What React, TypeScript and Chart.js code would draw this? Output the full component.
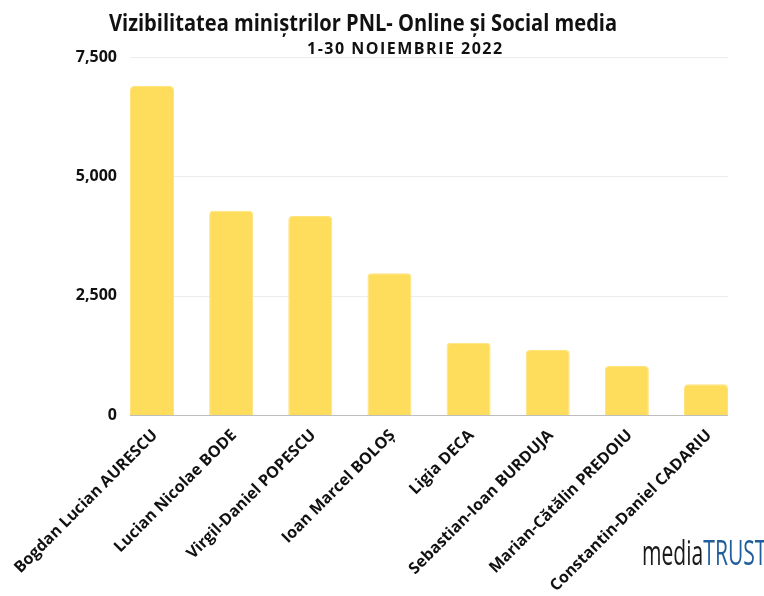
import React, { useEffect, useRef } from "react";
import { Chart, registerables } from "chart.js";

Chart.register(...registerables);

const categories = [
  "Bogdan Lucian AURESCU",
  "Lucian Nicolae BODE",
  "Virgil-Daniel POPESCU",
  "Ioan Marcel BOLOȘ",
  "Ligia DECA",
  "Sebastian-Ioan BURDUJA",
  "Marian-Cătălin PREDOIU",
  "Constantin-Daniel CADARIU",
];
const visibility = [6890, 4280, 4170, 2970, 1515, 1360, 1025, 645];
const yTicks = [0, 2500, 5000, 7500];

const titleText = "Vizibilitatea miniștrilor PNL- Online și Social media";
const subtitleText = "1-30 NOIEMBRIE 2022";

const FONT = "'Open Sans', 'Noto Sans', sans-serif";

const barGridPlugin = {
  id: "barGrid",
  beforeDatasetsDraw(chart: any) {
    const meta = chart.getDatasetMeta(0);
    if (!meta || !meta.data.length) return;
    const first = meta.data[0];
    const last = meta.data[meta.data.length - 1];
    const left = first.x - first.width / 2;
    const right = last.x + last.width / 2;
    const y = chart.scales.y;
    const ctx = chart.ctx;
    ctx.save();
    y.ticks.forEach((t: any) => {
      const py = Math.round(y.getPixelForValue(t.value)) + 0.5;
      ctx.beginPath();
      ctx.strokeStyle = t.value === 0 ? "#bdbdbd" : "#ededed";
      ctx.lineWidth = 1;
      ctx.moveTo(left, py);
      ctx.lineTo(right, py);
      ctx.stroke();
    });
    ctx.restore();
  },
};

export default function App() {
  const canvasRef = useRef<HTMLCanvasElement | null>(null);

  useEffect(() => {
    if (!canvasRef.current) return;
    const chart = new Chart(canvasRef.current, {
      type: "bar",
      data: {
        labels: categories,
        datasets: [
          {
            data: visibility,
            backgroundColor: "#FFDD5C",
            borderColor: "#FFE27A",
            borderWidth: 1,
            borderRadius: 4,
            borderSkipped: "start",
            barPercentage: 0.556,
            categoryPercentage: 1,
            clip: false as any,
          },
        ],
      },
      options: {
        animation: false,
        responsive: true,
        maintainAspectRatio: false,
        layout: { padding: { top: 57, right: 58, left: 0, bottom: 0 } },
        plugins: {
          legend: { display: false },
          title: { display: false },
          tooltip: { enabled: false },
        },
        scales: {
          x: {
            offset: false,
            grid: { display: false, drawTicks: false },
            border: { display: false },
            ticks: {
              autoSkip: false,
              minRotation: 45,
              maxRotation: 45,
              padding: 11,
              labelOffset: 3,
              color: "#111",
              font: { family: FONT, size: 16, weight: "bold" },
            },
            afterFit: (scale: any) => {
              scale.height = 181;
            },
          },
          y: {
            min: 0,
            max: 7500,
            afterBuildTicks: (scale: any) => {
              scale.ticks = yTicks.map((v) => ({ value: v }));
            },
            grid: { display: false, drawTicks: false },
            border: { display: false },
            ticks: {
              padding: 35,
              color: "#111",
              font: { family: FONT, size: 16, weight: "bold" },
              callback: (v: any) => Number(v).toLocaleString("en-US"),
            },
            afterFit: (scale: any) => {
              scale.width = 152;
            },
          },
        },
      },
      plugins: [barGridPlugin],
    });
    return () => chart.destroy();
  }, []);

  return (
    <div
      style={{
        position: "fixed",
        left: 0,
        top: 0,
        width: 764,
        height: 596,
        background: "#fff",
        overflow: "hidden",
      }}
    >
      <canvas ref={canvasRef} style={{ position: "absolute", left: 0, top: 0 }} />
      <div
        style={{
          position: "absolute",
          left: 109,
          top: 6,
          whiteSpace: "nowrap",
          fontFamily: FONT,
          fontWeight: 700,
          fontSize: 24,
          color: "#111",
          transform: "scaleX(0.837)",
          transformOrigin: "left top",
          lineHeight: "32px",
        }}
      >
        {titleText}
      </div>
      <div
        style={{
          position: "absolute",
          left: 307,
          top: 37,
          whiteSpace: "nowrap",
          fontFamily: FONT,
          fontWeight: 700,
          fontSize: 16,
          letterSpacing: "1.5px",
          color: "#111",
          lineHeight: "22px",
        }}
      >
        {subtitleText}
      </div>
      <div
        style={{
          position: "absolute",
          left: 642,
          top: 531,
          whiteSpace: "nowrap",
          fontFamily: "'Liberation Sans Narrow', 'Open Sans', sans-serif",
          fontSize: 34,
          lineHeight: "42px",
          transform: "scaleX(0.62)",
          transformOrigin: "left top",
        }}
      >
        <span style={{ color: "#1a1a1a" }}>media</span>
        <span style={{ color: "#1F5E9A" }}>TRUST</span>
      </div>
    </div>
  );
}
